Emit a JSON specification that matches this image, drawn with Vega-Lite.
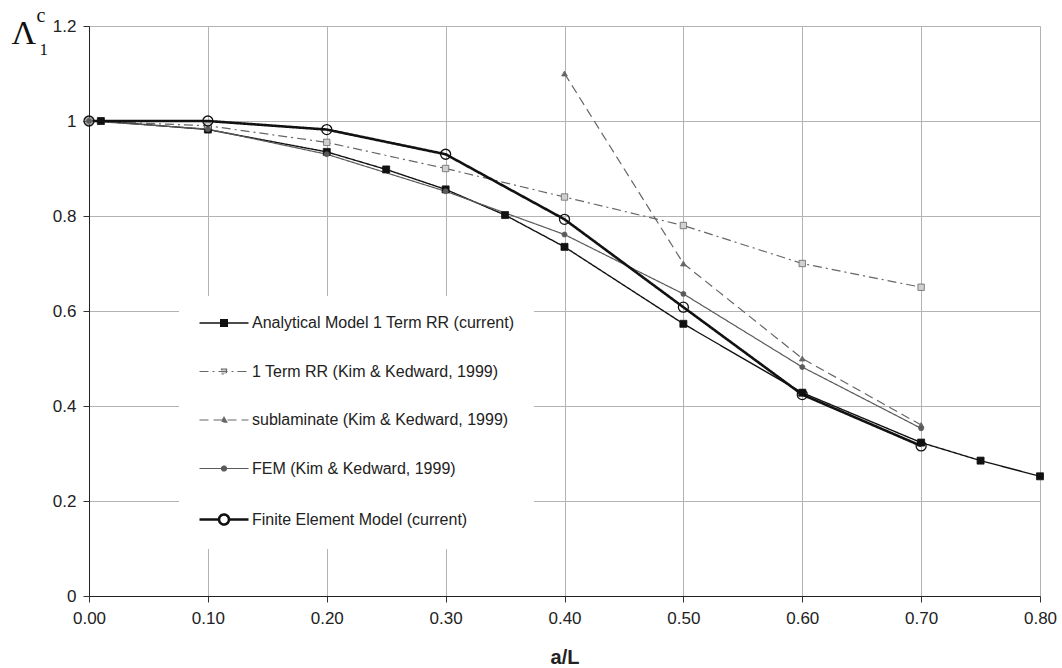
{
  "$schema": "https://vega.github.io/schema/vega-lite/v6.json",
  "width": 951,
  "height": 570,
  "autosize": {"type": "none"},
  "padding": {"left": 89, "top": 26, "right": 22, "bottom": 72},
  "background": "white",
  "config": {
    "view": {"stroke": null},
    "axis": {
      "labelFont": "Liberation Sans",
      "labelColor": "#222222",
      "domainColor": "#222222",
      "tickColor": "#333333",
      "gridColor": "#b3b3b3",
      "gridWidth": 1,
      "tickSize": 6
    }
  },
  "datasets": {
    "d": [
      {"series": "Analytical Model 1 Term RR (current)", "x": 0.01, "y": 1.0},
      {"series": "Analytical Model 1 Term RR (current)", "x": 0.1, "y": 0.982},
      {"series": "Analytical Model 1 Term RR (current)", "x": 0.2, "y": 0.935},
      {"series": "Analytical Model 1 Term RR (current)", "x": 0.25, "y": 0.898},
      {"series": "Analytical Model 1 Term RR (current)", "x": 0.3, "y": 0.856},
      {"series": "Analytical Model 1 Term RR (current)", "x": 0.35, "y": 0.802},
      {"series": "Analytical Model 1 Term RR (current)", "x": 0.4, "y": 0.735},
      {"series": "Analytical Model 1 Term RR (current)", "x": 0.5, "y": 0.573},
      {"series": "Analytical Model 1 Term RR (current)", "x": 0.6, "y": 0.428},
      {"series": "Analytical Model 1 Term RR (current)", "x": 0.7, "y": 0.323},
      {"series": "Analytical Model 1 Term RR (current)", "x": 0.75, "y": 0.285},
      {"series": "Analytical Model 1 Term RR (current)", "x": 0.8, "y": 0.252},
      {"series": "1 Term RR (Kim & Kedward, 1999)", "x": 0.0, "y": 1.0},
      {"series": "1 Term RR (Kim & Kedward, 1999)", "x": 0.1, "y": 0.99},
      {"series": "1 Term RR (Kim & Kedward, 1999)", "x": 0.2, "y": 0.955},
      {"series": "1 Term RR (Kim & Kedward, 1999)", "x": 0.3, "y": 0.9},
      {"series": "1 Term RR (Kim & Kedward, 1999)", "x": 0.4, "y": 0.84},
      {"series": "1 Term RR (Kim & Kedward, 1999)", "x": 0.5, "y": 0.78},
      {"series": "1 Term RR (Kim & Kedward, 1999)", "x": 0.6, "y": 0.7},
      {"series": "1 Term RR (Kim & Kedward, 1999)", "x": 0.7, "y": 0.65},
      {"series": "sublaminate (Kim & Kedward, 1999)", "x": 0.4, "y": 1.1},
      {"series": "sublaminate (Kim & Kedward, 1999)", "x": 0.5, "y": 0.7},
      {"series": "sublaminate (Kim & Kedward, 1999)", "x": 0.6, "y": 0.5},
      {"series": "sublaminate (Kim & Kedward, 1999)", "x": 0.7, "y": 0.36},
      {"series": "FEM (Kim & Kedward, 1999)", "x": 0.0, "y": 1.0},
      {"series": "FEM (Kim & Kedward, 1999)", "x": 0.1, "y": 0.983},
      {"series": "FEM (Kim & Kedward, 1999)", "x": 0.2, "y": 0.93},
      {"series": "FEM (Kim & Kedward, 1999)", "x": 0.3, "y": 0.852},
      {"series": "FEM (Kim & Kedward, 1999)", "x": 0.4, "y": 0.761},
      {"series": "FEM (Kim & Kedward, 1999)", "x": 0.5, "y": 0.636},
      {"series": "FEM (Kim & Kedward, 1999)", "x": 0.6, "y": 0.482},
      {"series": "FEM (Kim & Kedward, 1999)", "x": 0.7, "y": 0.353},
      {"series": "Finite Element Model (current)", "x": 0.0, "y": 1.0},
      {"series": "Finite Element Model (current)", "x": 0.1, "y": 1.0},
      {"series": "Finite Element Model (current)", "x": 0.2, "y": 0.982},
      {"series": "Finite Element Model (current)", "x": 0.3, "y": 0.93},
      {"series": "Finite Element Model (current)", "x": 0.4, "y": 0.793},
      {"series": "Finite Element Model (current)", "x": 0.5, "y": 0.608},
      {"series": "Finite Element Model (current)", "x": 0.6, "y": 0.424},
      {"series": "Finite Element Model (current)", "x": 0.7, "y": 0.316}
    ]
  },
  "data": {"name": "d"},
  "encoding": {
    "x": {
      "field": "x",
      "type": "quantitative",
      "title": "a/L",
      "scale": {"domain": [0, 0.8], "nice": false, "zero": true},
      "axis": {
        "values": [0, 0.1, 0.2, 0.3, 0.4, 0.5, 0.6, 0.7, 0.8],
        "format": ".2f",
        "grid": true,
        "labelFlush": false,
        "labelOverlap": false,
        "labelFontSize": 17,
        "labelPadding": 8,
        "titleFont": "Liberation Sans",
        "titleFontSize": 20,
        "titleFontWeight": "bold",
        "titleColor": "#222222",
        "titleBaseline": "alphabetic",
        "titleY": 67
      }
    }
  },
  "layer": [
    {
      "mark": {"type": "line"},
      "encoding": {
        "y": {
          "field": "y",
          "type": "quantitative",
          "scale": {"domain": [0, 1.2], "nice": false, "zero": true},
          "axis": {
            "orient": "left",
            "values": [0, 0.2, 0.4, 0.6, 0.8, 1, 1.2],
            "format": "~g",
            "grid": true,
            "labelFontSize": 17,
            "labelPadding": 7,
            "title": "Λ",
            "titleFont": "Liberation Serif",
            "titleFontSize": 34,
            "titleFontWeight": "normal",
            "titleColor": "#111111",
            "titleAngle": 0,
            "titleAlign": "left",
            "titleBaseline": "alphabetic",
            "titleX": -78,
            "titleY": 17
          }
        },
        "color": {
          "field": "series",
          "type": "nominal",
          "scale": {
            "domain": ["Analytical Model 1 Term RR (current)", "1 Term RR (Kim & Kedward, 1999)", "sublaminate (Kim & Kedward, 1999)", "FEM (Kim & Kedward, 1999)", "Finite Element Model (current)"],
            "range": ["#111111", "#666666", "#666666", "#5a5a5a", "#111111"]
          },
          "legend": {
            "title": null,
            "orient": "none",
            "legendX": 90,
            "legendY": 270,
            "fillColor": "white",
            "padding": 19,
            "symbolSize": 196,
            "rowPadding": 32.5,
            "labelOffset": 37,
            "labelFont": "Liberation Sans",
            "labelFontSize": 16,
            "labelColor": "#222222",
            "labelLimit": 600,
            "encode": {
              "symbols": {
                "update": {
                  "shape": {"signal": "['M-1,0L6,0M2.03,-0.47L2.97,-0.47L2.97,0.47L2.03,0.47Z','M-1,0L6,0M2.14,-0.36L2.86,-0.36L2.86,0.36L2.14,0.36Z','M-1,0L6,0M2.5,-0.4L2.9,0.3L2.1,0.3Z','M-1,0L6,0M2.14,0A0.36,0.36,0,1,0,2.86,0A0.36,0.36,0,1,0,2.14,0Z','M-1,0L1.79,0M3.21,0L6,0M1.79,0A0.71,0.71,0,1,0,3.21,0A0.71,0.71,0,1,0,1.79,0Z'][indexof(['Analytical Model 1 Term RR (current)','1 Term RR (Kim & Kedward, 1999)','sublaminate (Kim & Kedward, 1999)','FEM (Kim & Kedward, 1999)','Finite Element Model (current)'], datum.value)]"},
                  "fill": {"signal": "['#111111','#d0d0d0','#666666','#5a5a5a','white'][indexof(['Analytical Model 1 Term RR (current)','1 Term RR (Kim & Kedward, 1999)','sublaminate (Kim & Kedward, 1999)','FEM (Kim & Kedward, 1999)','Finite Element Model (current)'], datum.value)]"},
                  "strokeWidth": {"signal": "[1.4,1.2,1.2,1.2,2.4][indexof(['Analytical Model 1 Term RR (current)','1 Term RR (Kim & Kedward, 1999)','sublaminate (Kim & Kedward, 1999)','FEM (Kim & Kedward, 1999)','Finite Element Model (current)'], datum.value)]"},
                  "opacity": {"value": 1}
                }
              }
            }
          }
        },
        "strokeDash": {
          "field": "series",
          "type": "nominal",
          "scale": {
            "domain": ["Analytical Model 1 Term RR (current)", "1 Term RR (Kim & Kedward, 1999)", "sublaminate (Kim & Kedward, 1999)", "FEM (Kim & Kedward, 1999)", "Finite Element Model (current)"],
            "range": [[1, 0], [9, 4, 2, 4], [9, 5], [1, 0], [1, 0]]
          }
        },
        "strokeWidth": {
          "field": "series",
          "type": "ordinal",
          "scale": {
            "type": "ordinal",
            "domain": ["Analytical Model 1 Term RR (current)", "1 Term RR (Kim & Kedward, 1999)", "sublaminate (Kim & Kedward, 1999)", "FEM (Kim & Kedward, 1999)", "Finite Element Model (current)"],
            "range": [1.4, 1.2, 1.2, 1.2, 2.6]
          },
          "legend": null
        }
      }
    },
    {
      "transform": [{"filter": "datum.series !== 'Finite Element Model (current)'"}],
      "mark": {"type": "point", "filled": true, "strokeWidth": 0.8, "opacity": 1},
      "encoding": {
        "y": {
          "field": "y",
          "type": "quantitative",
          "scale": {"domain": [0, 1.2], "nice": false, "zero": true},
          "axis": {
            "orient": "left",
            "domain": false,
            "ticks": false,
            "labels": false,
            "grid": false,
            "title": "c",
            "titleFont": "Liberation Serif",
            "titleFontSize": 20,
            "titleFontWeight": "normal",
            "titleColor": "#111111",
            "titleAngle": 0,
            "titleAlign": "left",
            "titleBaseline": "alphabetic",
            "titleX": -53,
            "titleY": -5
          }
        },
        "shape": {
          "field": "series",
          "type": "nominal",
          "scale": {
            "domain": ["Analytical Model 1 Term RR (current)", "1 Term RR (Kim & Kedward, 1999)", "sublaminate (Kim & Kedward, 1999)", "FEM (Kim & Kedward, 1999)"],
            "range": ["square", "square", "triangle-up", "circle"]
          },
          "legend": null
        },
        "fill": {
          "field": "series",
          "type": "nominal",
          "scale": {
            "domain": ["Analytical Model 1 Term RR (current)", "1 Term RR (Kim & Kedward, 1999)", "sublaminate (Kim & Kedward, 1999)", "FEM (Kim & Kedward, 1999)"],
            "range": ["#111111", "#d0d0d0", "#666666", "#5a5a5a"]
          },
          "legend": null
        },
        "stroke": {
          "field": "series",
          "type": "nominal",
          "scale": {
            "domain": ["Analytical Model 1 Term RR (current)", "1 Term RR (Kim & Kedward, 1999)", "sublaminate (Kim & Kedward, 1999)", "FEM (Kim & Kedward, 1999)"],
            "range": ["#111111", "#666666", "#666666", "#5a5a5a"]
          },
          "legend": null
        },
        "size": {
          "field": "series",
          "type": "nominal",
          "scale": {
            "domain": ["Analytical Model 1 Term RR (current)", "1 Term RR (Kim & Kedward, 1999)", "sublaminate (Kim & Kedward, 1999)", "FEM (Kim & Kedward, 1999)"],
            "range": [49, 25, 30, 25]
          },
          "legend": null
        }
      }
    },
    {
      "transform": [{"filter": "datum.series === 'Finite Element Model (current)'"}],
      "mark": {"type": "point", "shape": "circle", "size": 100, "stroke": "#111111", "strokeWidth": 1.3, "filled": false, "opacity": 1},
      "encoding": {
        "y": {
          "field": "y",
          "type": "quantitative",
          "scale": {"domain": [0, 1.2], "nice": false, "zero": true},
          "axis": {
            "orient": "left",
            "domain": false,
            "ticks": false,
            "labels": false,
            "grid": false,
            "title": "1",
            "titleFont": "Liberation Serif",
            "titleFontSize": 17,
            "titleFontWeight": "normal",
            "titleColor": "#111111",
            "titleAngle": 0,
            "titleAlign": "left",
            "titleBaseline": "alphabetic",
            "titleX": -50,
            "titleY": 28
          }
        }
      }
    }
  ],
  "resolve": {"axis": {"y": "independent"}}
}
